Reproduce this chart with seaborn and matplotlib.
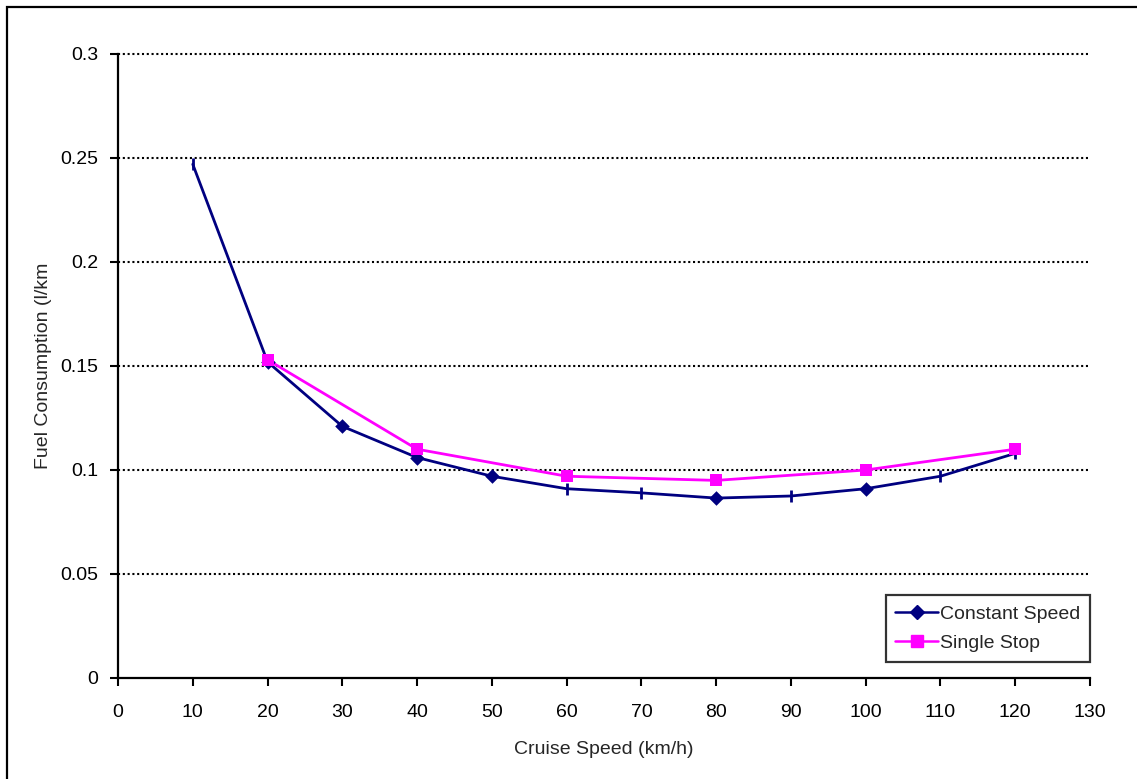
import matplotlib
matplotlib.use("Agg")
import matplotlib.pyplot as plt
from matplotlib.lines import Line2D
from matplotlib.patches import Rectangle
import seaborn as sns
import pandas as pd

# Fuel consumption vs cruise speed
speed_const = [10, 20, 30, 40, 50, 60, 70, 80, 90, 100, 110, 120]
fuel_const = [0.247, 0.152, 0.121, 0.106, 0.097, 0.091, 0.089, 0.0865, 0.0875, 0.091, 0.097, 0.108]
# points of the constant-speed series drawn with a diamond (others show a short tick)
diamond_speeds = [20, 30, 40, 50, 80, 100]

speed_stop = [20, 40, 60, 80, 100, 120]
fuel_stop = [0.153, 0.110, 0.097, 0.095, 0.100, 0.110]

x_ticks = [0, 10, 20, 30, 40, 50, 60, 70, 80, 90, 100, 110, 120, 130]
y_ticks = [0, 0.05, 0.1, 0.15, 0.2, 0.25, 0.3]
y_tick_labels = ["0", "0.05", "0.1", "0.15", "0.2", "0.25", "0.3"]

series_names = ["Constant Speed", "Single Stop"]
colors = {"Constant Speed": "#000080", "Single Stop": "#FF00FF"}

df = pd.concat([
    pd.DataFrame({"speed": speed_const, "fuel": fuel_const, "series": series_names[0]}),
    pd.DataFrame({"speed": speed_stop, "fuel": fuel_stop, "series": series_names[1]}),
], ignore_index=True)

sns.set_style("white")
plt.rcParams["font.family"] = ["Liberation Sans", "DejaVu Sans"]
FS = 14

W, H = 1137, 779
fig = plt.figure(figsize=(W / 100, H / 100), dpi=100)
ax = fig.add_axes([118 / W, (H - 678) / H, 972 / W, 624 / H])

# outer chart border
fig.add_artist(Rectangle((7 / W, -0.05), 1.2, (H - 7) / H + 0.05, transform=fig.transFigure,
                         fill=False, edgecolor="black", linewidth=1.6, clip_on=False))

# gridlines
for yv in y_ticks[1:]:
    ax.axhline(yv, color="black", linestyle=(0, (1.0, 1.3)), linewidth=1.5, zorder=1,
               clip_on=False)

sns.lineplot(data=df, x="speed", y="fuel", hue="series", palette=colors,
             linewidth=2.0, legend=False, ax=ax, zorder=3)

const_df = df[df["series"] == series_names[0]]
dia = const_df[const_df["speed"].isin(diamond_speeds)]
tick = const_df[~const_df["speed"].isin(diamond_speeds)]
sns.scatterplot(data=dia, x="speed", y="fuel", marker="D", s=55, color="#000080",
                edgecolor="#000080", linewidth=0, ax=ax, zorder=4, legend=False)
ax.plot(tick["speed"], tick["fuel"], linestyle="none", marker="|", markersize=8,
        markeredgewidth=2, color="#000080", zorder=4)
stop_df = df[df["series"] == series_names[1]]
sns.scatterplot(data=stop_df, x="speed", y="fuel", marker="s", s=85, color="#FF00FF",
                edgecolor="#FF00FF", linewidth=0, ax=ax, zorder=5, legend=False)

ax.set_xlim(0, 130)
ax.set_ylim(0, 0.3)
ax.set_xticks(x_ticks)
ax.set_yticks(y_ticks)
ax.set_yticklabels(y_tick_labels)
ax.tick_params(axis="both", direction="out", length=6, width=1.5, color="black",
               labelsize=FS, labelcolor="black", bottom=True, left=True, pad=4)
ax.tick_params(axis="x", pad=13)
ax.tick_params(axis="y", pad=8)

for side in ["top", "right"]:
    ax.spines[side].set_visible(False)
for side in ["left", "bottom"]:
    ax.spines[side].set_color("black")
    ax.spines[side].set_linewidth(1.6)

ax.set_xlabel("Cruise Speed (km/h)", fontsize=FS, labelpad=14)
ax.set_ylabel("Fuel Consumption (l/km", fontsize=FS, labelpad=6)

handles = [
    Line2D([0], [0], color="#000080", linewidth=1.8, marker="D", markersize=7),
    Line2D([0], [0], color="#FF00FF", linewidth=1.8, marker="s", markersize=8),
]
leg = ax.legend(handles, series_names, loc="lower right", bbox_to_anchor=(1.0, 0.026),
                fontsize=FS, frameon=True, fancybox=False, handlelength=2.2,
                handletextpad=0.1, borderpad=0.5, labelspacing=0.6, borderaxespad=0)
leg.get_frame().set_edgecolor("black")
leg.get_frame().set_linewidth(1.6)

fig.savefig("out.png", dpi=100, facecolor="white")
